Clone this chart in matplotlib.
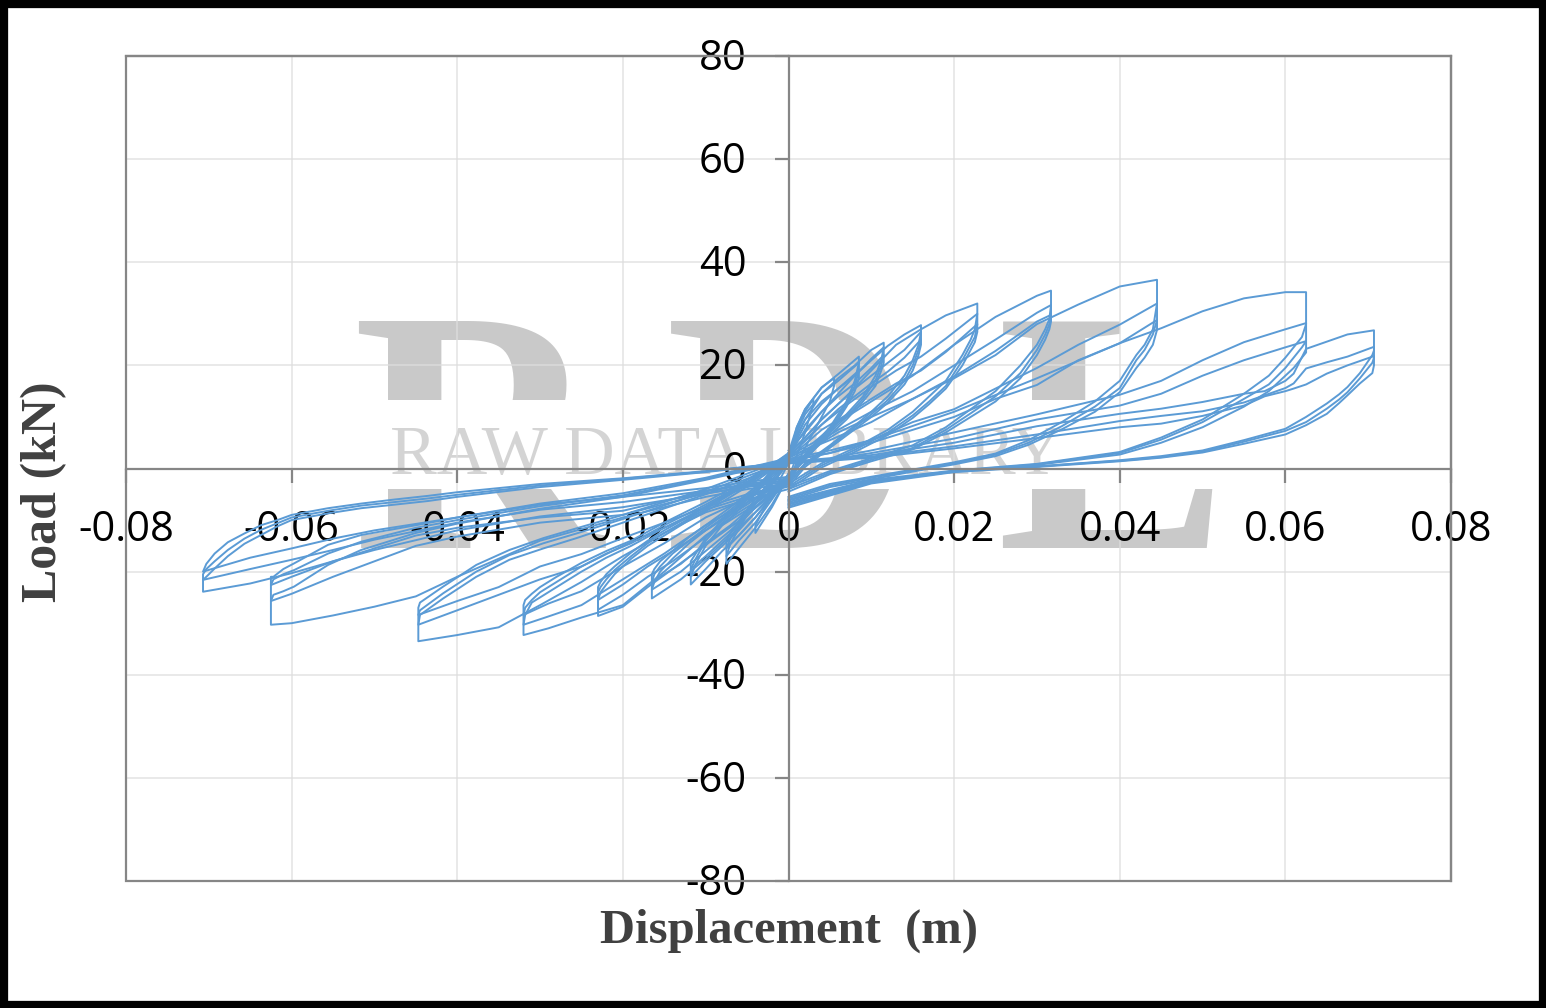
import matplotlib
matplotlib.use('Agg')
import matplotlib.pyplot as plt
from matplotlib.patches import Rectangle
from matplotlib.transforms import ScaledTranslation

W, H = 1546, 1008
BLUE = '#5B9BD5'
GRAY = '#868686'
GRID = '#DEDEDE'
WM = '#C9C9C9'

x_ticks = [-0.08, -0.06, -0.04, -0.02, 0, 0.02, 0.04, 0.06, 0.08]
x_labels = ['-0.08', '-0.06', '-0.04', '-0.02', '0', '0.02', '0.04', '0.06', '0.08']
y_ticks = [-80, -60, -40, -20, 0, 20, 40, 60, 80]
y_labels = ['-80', '-60', '-40', '-20', '0', '20', '40', '60', '80']

# ---- positive side: loading branch then unloading branch

# amplitude 0.0707
xA_up = [0, .005, .01, .02, .03, .04, .045, .05, .055, .0575, .06, .061, .0625, .065, .0675, .0707]
pA1 = [1.2, 1.8, 2.6, 5, 8.2, 10.6, 11.6, 12.9, 14.5, 15, 17, 18.4, 23.2, 24.6, 26, 26.8]
pA2 = [1.1, 1.6, 2.3, 4.3, 6.6, 9.2, 10.2, 11.1, 12.8, 14.2, 15.6, 16.5, 19.4, 20.6, 21.7, 23.6]
pA3 = [1, 1.5, 2.1, 3.9, 5.9, 8, 8.7, 10.2, 12.2, 14, 15, 15.5, 16.3, 18.4, 20, 21.8]
xA_dn = [.0707, .0705, .069, .0675, .0665, .065, .0625, .06, .055, .05, .045, .04, .03, .02, .01, 0]
uA1 = [22.9, 22, 18.5, 15.8, 14.4, 12.6, 10, 7.7, 5.5, 3.5, 2.4, 1.6, .4, -.5, -2.5, -7]
uA2 = [21.5, 20.5, 17.5, 14.8, 13.4, 11.6, 9, 7.3, 5.2, 3.3, 2.2, 1.5, .4, -.6, -2.7, -7.3]
uA3 = [20, 18.5, 16.5, 14.2, 12.7, 10.6, 8.4, 6.6, 4.8, 3.1, 2.1, 1.4, .3, -.7, -2.9, -7.6]

# amplitude 0.0625
xB_up = [0, .005, .01, .02, .03, .04, .045, .05, .055, .06, .0625]
pB1 = [1.6, 3, 5.5, 11, 17.5, 24.3, 27.2, 30.5, 33, 34.2, 34.2]
pB2 = [1.3, 2, 3.5, 7, 10.5, 14.3, 17, 21, 24.5, 27, 28.2]
pB3 = [1, 1.7, 3, 5.8, 9.5, 12.2, 14.5, 18, 21, 23.5, 24.7]
xB_dn = [.0625, .062, .061, .06, .058, .055, .05, .045, .04, .03, .02, .01, 0]
uB1 = [28, 25.5, 23.5, 21.5, 18, 14.5, 9.5, 6, 3.2, .9, -.4, -2.2, -6.2]
uB2 = [24.7, 23.5, 21.5, 19.5, 16.3, 13.5, 9, 5.6, 3, .8, -.5, -2.4, -6.5]
uB3 = [22.5, 21.5, 19.5, 18, 15, 12, 8, 5, 2.7, .7, -.6, -2.6, -6.8]

# amplitude 0.0445
xC_up = [0, .005, .01, .015, .02, .025, .03, .035, .04, .0445]
pC1 = [2.2, 5.5, 9, 13.5, 17.5, 22, 28, 31.8, 35.3, 36.6]
pC2 = [1.8, 3.5, 5.5, 9, 11.5, 15.5, 19.5, 24, 27.9, 32]
pC3 = [1.4, 3, 5, 7.5, 10, 13.5, 16.2, 21, 24.3, 28.8]
xC_dn = [.0445, .044, .043, .042, .04, .037, .033, .029, .025, .02, .015, .01, .005, 0]
uC1 = [32, 27, 24, 22, 17, 13, 9, 5.5, 2.9, 1.2, -.2, -1.6, -3, -5.5]
uC2 = [28.8, 26, 23, 21, 15.6, 12, 8.2, 5, 2.7, 1, -.4, -1.8, -3.3, -5.8]
uC3 = [26.9, 24, 21.5, 19.5, 14.8, 11, 7.6, 4.6, 2.4, .8, -.6, -2.1, -3.6, -6.1]

# amplitude 0.0317
xD_up = [0, .003, .006, .01, .015, .02, .025, .03, .0317]
pD1 = [2.4, 5, 9, 13, 18, 24, 29.4, 33.5, 34.5]
pD2 = [2, 4.5, 7.5, 11, 15, 20, 25, 30.2, 31.7]
pD3 = [1.6, 4, 7, 10, 13.5, 17.8, 22.8, 28.5, 29.8]
xD_dn = [.0317, .0315, .031, .03, .028, .025, .022, .019, .015, .01, .005, 0]
uD1 = [31.7, 29, 27, 24, 20, 15, 11.5, 8, 4.5, 2, -.5, -3.5]
uD2 = [29.8, 28, 26, 23, 18.5, 14, 10.7, 7.5, 4, 1.7, -.8, -4]
uD3 = [28.5, 27, 25, 22, 17.5, 13, 10, 7, 3.7, 1.4, -1.1, -4.5]

# amplitude 0.0228
xE_up = [0, .002, .004, .007, .01, .013, .016, .019, .0228]
pE1 = [3, 6, 9.5, 14, 19, 24, 27, 29.7, 32]
pE2 = [2.4, 5.5, 8.5, 12.3, 15.8, 19, 21.7, 25.2, 30]
pE3 = [2, 4.7, 7.5, 10.4, 13.5, 16.5, 19, 22.6, 28]
xE_dn = [.0228, .0225, .022, .021, .019, .017, .015, .012, .008, .004, 0]
uE1 = [30, 27, 25, 22, 17, 14, 11, 7.5, 4, 1, -3]
uE2 = [28, 25.5, 24, 21, 16, 13, 10.3, 7, 3.6, .6, -3.5]
uE3 = [26.5, 24.5, 23, 20, 15.5, 12.5, 9.8, 6.5, 3.2, .2, -4]

# amplitude 0.016
xF_up = [0, .002, .004, .006, .008, .01, .012, .014, .016]
pF1 = [3.5, 7, 11, 14.5, 18, 21, 23.8, 26, 27.8]
pF2 = [2.8, 6, 9.5, 12.5, 15.5, 18, 20.5, 23, 26.5]
pF3 = [2.3, 5.3, 8.5, 11.5, 14, 16.5, 18.8, 21.5, 25]
xF_dn = [.016, .0157, .015, .014, .012, .01, .008, .005, .002, 0]
uF1 = [26.5, 24, 21, 18, 14, 11, 8.3, 4.5, 1, -2.5]
uF2 = [25, 23, 20, 17, 13.3, 10.5, 8, 4.3, .7, -3]
uF3 = [24, 22, 19, 16.3, 12.8, 10, 7.6, 4, .3, -3.5]

# amplitude 0.0115
xG_up = [0, .001, .002, .004, .006, .008, .01, .0115]
pG1 = [3, 6.5, 9.5, 14.5, 17.5, 20, 23, 24.4]
pG2 = [2.4, 5.5, 8.5, 12.5, 15.5, 18, 21.3, 23.5]
pG3 = [2, 5, 7.5, 11, 14, 16.5, 19.5, 22]
xG_dn = [.0115, .0112, .0105, .009, .007, .005, .003, .001, 0]
uG1 = [23.5, 21, 18, 14, 10.5, 7.5, 4.5, 1, -2]
uG2 = [22, 20, 17, 13.5, 10, 7, 4, .5, -2.5]
uG3 = [20.5, 19, 16, 13, 9.5, 6.5, 3.5, 0, -3]

# amplitude 0.0085
xH_up = [0, .001, .002, .004, .006, .0085]
pH1 = [3, 8, 11.5, 15.7, 18.3, 21.7]
pH2 = [2.4, 7, 10.5, 14.5, 17, 20.5]
pH3 = [2, 6, 9.5, 13, 15.5, 19]
xH_dn = [.0085, .008, .007, .005, .003, .001, 0]
uH1 = [20.5, 17, 13, 8, 4.5, 1, -2.5]
uH2 = [19, 16, 12.5, 7.5, 4, .5, -3]
uH3 = [17.5, 15, 12, 7, 3.5, 0, -3]

# first small cycles
xI_up = [0, .001, .002, .004, .0055]
pI1 = [1.5, 8, 11.5, 15.7, 17.5]
xI_dn = [.0055, .005, .004, .002, 0]
uI1 = [16, 13, 10, 4, -2.5]
xJ_up = [0, .001, .002, .003]
pJ1 = [1, 7.5, 11, 13.5]
xJ_dn = [.003, .002, .001, 0]
uJ1 = [12.5, 7, 2.5, -2]

# ---- negative side

# amplitude -0.0707
xa_up = [0, -.005, -.01, -.02, -.03, -.04, -.05, -.055, -.06, -.065, -.0707]
na1 = [-1.6, -2.6, -3.8, -5.5, -7, -9.5, -12, -13.6, -15.5, -17.3, -20]
na2 = [-1.9, -3, -4.3, -6.5, -8, -10.5, -13.8, -15.8, -17.7, -19.5, -21.6]
na3 = [-2.2, -3.5, -4.9, -7.5, -9.3, -12, -15.8, -18, -20.3, -22.3, -23.9]
xa_dn = [-.0707, -.0703, -.0693, -.0677, -.0657, -.0637, -.0617, -.06, -.0556, -.0516, -.0475, -.0435, -.04, -.03, -.02, -.01, 0]
va1 = [-20, -18.5, -16.5, -14.3, -12.6, -11, -10, -9, -7.7, -6.8, -6, -5.3, -4.6, -3, -1.9, -.5, 1.2]
va2 = [-20.5, -19.5, -18, -15.8, -13.6, -11.9, -10.6, -9.5, -8.2, -7.2, -6.5, -5.8, -5.1, -3.3, -2, -.6, 1.2]
va3 = [-21.6, -21, -19.4, -17, -14.6, -12.9, -11.2, -10, -8.7, -7.7, -7, -6.3, -5.5, -3.6, -2.2, -.7, 1.1]

# amplitude -0.0625
xb_up = [0, -.005, -.01, -.02, -.03, -.04, -.045, -.05, -.055, -.06, -.0625]
nb1 = [-3, -4, -5.5, -9.5, -14, -21, -24.8, -26.8, -28.5, -30, -30.3]
nb2 = [-2.6, -3.6, -4.8, -9, -10.5, -13.2, -15, -18, -21, -24.3, -25.7]
nb3 = [-2.3, -3.2, -4.4, -8.2, -9.5, -11.5, -13, -15.5, -18, -21, -22.6]
xb_dn = [-.0625, -.0622, -.061, -.0597, -.0556, -.0516, -.045, -.04, -.03, -.02, -.01, 0]
vb1 = [-25.7, -24.5, -23.8, -22.9, -18.7, -15.8, -12.5, -10.7, -7.8, -5.5, -2.2, 1.4]
vb2 = [-22.6, -21.5, -20.5, -19.7, -16.5, -14.2, -11.5, -10, -7.3, -5.2, -2, 1.7]
vb3 = [-21, -21, -19.5, -18.4, -14.8, -12.9, -11, -9.5, -6.8, -4.8, -1.8, 2]

# amplitude -0.0445
xc_up = [0, -.005, -.01, -.015, -.02, -.025, -.03, -.035, -.04, -.0447]
nc1 = [-4, -6, -8.5, -12.5, -17, -22, -26.5, -30.8, -32.3, -33.5]
nc2 = [-3.5, -5.5, -8, -11.5, -15, -19, -21.5, -24.5, -27.5, -30.3]
nc3 = [-3, -5, -7.5, -10.5, -13.5, -16.6, -19, -23, -25.7, -28.4]
xc_dn = [-.0447, -.0445, -.0417, -.0377, -.0337, -.0296, -.0256, -.02, -.01, 0]
vc1 = [-30.3, -28.4, -25.2, -21, -17.7, -15.5, -13.5, -10.5, -5, 1]
vc2 = [-28.4, -27.5, -24.2, -20, -16.8, -14.5, -12.6, -9.8, -4.5, 1.5]
vc3 = [-27, -26, -22.9, -18.7, -15.8, -13.5, -11.6, -9, -4, 2]

# amplitude -0.032
xd_up = [0, -.003, -.006, -.01, -.015, -.02, -.025, -.029, -.032]
nd1 = [-3, -5.5, -8.5, -13, -20, -26.5, -28.9, -31, -32.3]
nd2 = [-2.6, -4.8, -7.5, -11, -16.5, -21.5, -26.5, -28.7, -30.3]
nd3 = [-2.2, -4.2, -6.5, -9.5, -14.5, -19, -23.8, -26.2, -28.4]
xd_dn = [-.032, -.0318, -.031, -.03, -.028, -.025, -.022, -.019, -.015, -.01, -.005, 0]
vd1 = [-30.3, -28.4, -26, -25, -23, -20, -17.3, -15, -11.5, -7.5, -3, 2]
vd2 = [-28.4, -27, -25.5, -24, -22, -19, -16.5, -14.5, -11, -7, -2.6, 2.4]
vd3 = [-26.5, -25.5, -24.3, -23, -21, -18.3, -16, -14, -10.5, -6.5, -2.2, 2.8]

# amplitude -0.023
xe_up = [0, -.002, -.005, -.008, -.011, -.014, -.017, -.02, -.023]
ne1 = [-3, -5, -9, -12.5, -16, -19.5, -23, -26.8, -28.6]
ne2 = [-2.5, -4.4, -8, -11, -14.5, -18, -21, -24.5, -27.4]
ne3 = [-2, -3.8, -7, -10, -13, -16, -19, -22.5, -25.5]
xe_dn = [-.023, -.0227, -.022, -.021, -.019, -.017, -.015, -.012, -.008, -.004, 0]
ve1 = [-25.5, -24, -22.5, -20.5, -17.5, -15, -13, -10, -6.5, -2.5, 2]
ve2 = [-24, -23, -21.5, -19.7, -17, -14.5, -12.5, -9.7, -6, -2.1, 2.5]
ve3 = [-23, -22, -20.5, -19, -16.3, -14, -12, -9.3, -5.5, -1.7, 3]

# amplitude -0.0165
xf_up = [0, -.002, -.004, -.007, -.01, -.013, -.0165]
nf1 = [-2.5, -5.5, -8.5, -13, -17.5, -21.5, -25.2]
nf2 = [-2.1, -4.8, -7.5, -12, -16, -20, -23.5]
nf3 = [-1.7, -4.2, -6.8, -11, -14.5, -18.5, -22]
xf_dn = [-.0165, -.0162, -.0155, -.014, -.012, -.01, -.007, -.004, -.001, 0]
vf1 = [-23.5, -22, -20, -17.5, -14.5, -12, -8.5, -4.5, -.2, 1.5]
vf2 = [-22, -20.5, -19, -16.5, -14, -11.5, -8, -4, .2, 2]
vf3 = [-20.5, -19.5, -18, -16, -13.3, -11, -7.5, -3.6, .6, 2.5]

# amplitude -0.0118
xg_up = [0, -.002, -.004, -.006, -.008, -.01, -.0118]
ng1 = [-2, -5.5, -9.5, -13, -16, -19.5, -22.5]
ng2 = [-1.6, -5, -8.5, -12, -15, -18, -21]
ng3 = [-1.3, -4.5, -7.5, -11, -14, -17, -19.5]
xg_dn = [-.0118, -.0112, -.01, -.008, -.006, -.004, -.002, 0]
vg1 = [-21, -18.5, -15, -11, -8, -5, -1.2, 1.5]
vg2 = [-19.5, -17.5, -14, -10.5, -7.5, -4.5, -.7, 2]
vg3 = [-18, -16.5, -13.5, -10, -7, -4, -.3, 2.4]

# amplitude -0.0075
xh_up = [0, -.002, -.004, -.006, -.0075]
nh1 = [-1.5, -7, -11.5, -15.5, -18.5]
nh2 = [-1.3, -6, -10.5, -14, -17]
nh3 = [-1, -5.5, -9.5, -13, -15.5]
xh_dn = [-.0075, -.007, -.005, -.003, -.001, 0]
vh1 = [-17, -14.5, -9, -5, -1, 1.2]
vh2 = [-15.5, -13.5, -8.5, -4.5, -.7, 1.5]
vh3 = [-14, -12.5, -8, -4, -.3, 1.8]

xi_up = [0, -.001, -.002, -.004]
ni1 = [-1, -4.5, -7.5, -12.5]
xi_dn = [-.004, -.003, -.002, -.001, 0]
vi1 = [-11, -8, -5, -2, 1]

cycles = [
    (xJ_up, pJ1, xJ_dn, uJ1), (xI_up, pI1, xI_dn, uI1),
    (xH_up, pH1, xH_dn, uH1), (xH_up, pH2, xH_dn, uH2), (xH_up, pH3, xH_dn, uH3),
    (xG_up, pG1, xG_dn, uG1), (xG_up, pG2, xG_dn, uG2), (xG_up, pG3, xG_dn, uG3),
    (xF_up, pF1, xF_dn, uF1), (xF_up, pF2, xF_dn, uF2), (xF_up, pF3, xF_dn, uF3),
    (xE_up, pE1, xE_dn, uE1), (xE_up, pE2, xE_dn, uE2), (xE_up, pE3, xE_dn, uE3),
    (xD_up, pD1, xD_dn, uD1), (xD_up, pD2, xD_dn, uD2), (xD_up, pD3, xD_dn, uD3),
    (xC_up, pC1, xC_dn, uC1), (xC_up, pC2, xC_dn, uC2), (xC_up, pC3, xC_dn, uC3),
    (xB_up, pB1, xB_dn, uB1), (xB_up, pB2, xB_dn, uB2), (xB_up, pB3, xB_dn, uB3),
    (xA_up, pA1, xA_dn, uA1), (xA_up, pA2, xA_dn, uA2), (xA_up, pA3, xA_dn, uA3),
    (xi_up, ni1, xi_dn, vi1),
    (xh_up, nh1, xh_dn, vh1), (xh_up, nh2, xh_dn, vh2), (xh_up, nh3, xh_dn, vh3),
    (xg_up, ng1, xg_dn, vg1), (xg_up, ng2, xg_dn, vg2), (xg_up, ng3, xg_dn, vg3),
    (xf_up, nf1, xf_dn, vf1), (xf_up, nf2, xf_dn, vf2), (xf_up, nf3, xf_dn, vf3),
    (xe_up, ne1, xe_dn, ve1), (xe_up, ne2, xe_dn, ve2), (xe_up, ne3, xe_dn, ve3),
    (xd_up, nd1, xd_dn, vd1), (xd_up, nd2, xd_dn, vd2), (xd_up, nd3, xd_dn, vd3),
    (xc_up, nc1, xc_dn, vc1), (xc_up, nc2, xc_dn, vc2), (xc_up, nc3, xc_dn, vc3),
    (xb_up, nb1, xb_dn, vb1), (xb_up, nb2, xb_dn, vb2), (xb_up, nb3, xb_dn, vb3),
    (xa_up, na1, xa_dn, va1), (xa_up, na2, xa_dn, va2), (xa_up, na3, xa_dn, va3),
]

fig = plt.figure(figsize=(W / 100, H / 100), dpi=100, facecolor='white')

# black frame round the picture
fig.add_artist(Rectangle((0, 0), 1, 1, transform=fig.transFigure, fill=False,
                         ec='black', lw=11, zorder=10))


def fx(px):
    return px / W


def fy(py):
    return 1 - py / H


# watermark sits on the figure, under the axes
for letter, left in [('R', 352), ('D', 665), ('L', 996)]:
    fig.text(fx(left), fy(548), letter, family='Liberation Serif', weight='bold',
             fontsize=249, color=WM, ha='left', va='baseline', zorder=0)
fig.add_artist(Rectangle((fx(340), fy(489)), (1240 - 340) / W, 89 / H,
                         transform=fig.transFigure, fc='white', ec='none', zorder=0.5))
fig.text(fx(726), fy(474), 'RAW DATA LIBRARY', family='Liberation Serif',
         fontsize=50.5, color='#D4D4D4', ha='center', va='baseline', zorder=0.6)

ax = fig.add_axes([fx(126), fy(881), (1451 - 126) / W, (881 - 56) / H], zorder=3)
ax.patch.set_alpha(0)
ax.set_xlim(-0.08, 0.08)
ax.set_ylim(-80, 80)

for v in x_ticks:
    ax.axvline(v, color=GRID, lw=1.1, zorder=0.5, alpha=0.85)
for v in y_ticks:
    ax.axhline(v, color=GRID, lw=1.1, zorder=0.5, alpha=0.85)

for xu, yu, xd, yd in cycles:
    ax.plot(list(xu) + list(xd), list(yu) + list(yd), color=BLUE, lw=1.4, zorder=2,
            solid_joinstyle='round')

for s in ['left', 'bottom']:
    ax.spines[s].set_position('zero')
for s in ax.spines.values():
    s.set_color(GRAY)
    s.set_linewidth(1.6)
ax.add_patch(Rectangle((0, 0), 1, 1, transform=ax.transAxes, fill=False, ec=GRAY,
                       lw=1.6, clip_on=False, zorder=2.5))

ax.set_xticks(x_ticks)
ax.set_xticklabels(x_labels)
ax.set_yticks(y_ticks)
ax.set_yticklabels(y_labels)
ax.tick_params(axis='both', direction='out', length=10, width=1.6, color=GRAY,
               labelsize=30, labelcolor='black')
ax.tick_params(axis='x', pad=19)
ax.tick_params(axis='y', pad=20)
up2 = ScaledTranslation(0, 2 / 100, fig.dpi_scale_trans)
for t in ax.get_xticklabels() + ax.get_yticklabels():
    t.set_family('Open Sans')
    t.set_zorder(5)
for t in ax.get_yticklabels():
    t.set_transform(t.get_transform() + up2)

fig.text(fx(789), fy(931), 'Displacement  (m)', family='Liberation Serif', weight='bold',
         fontsize=35, color='#404040', ha='center', va='center')
fig.text(fx(44), fy(492), 'Load (kN)', family='Liberation Serif', weight='bold',
         fontsize=36, color='#404040', ha='center', va='center', rotation=90)

fig.savefig('out.png', dpi=100)
